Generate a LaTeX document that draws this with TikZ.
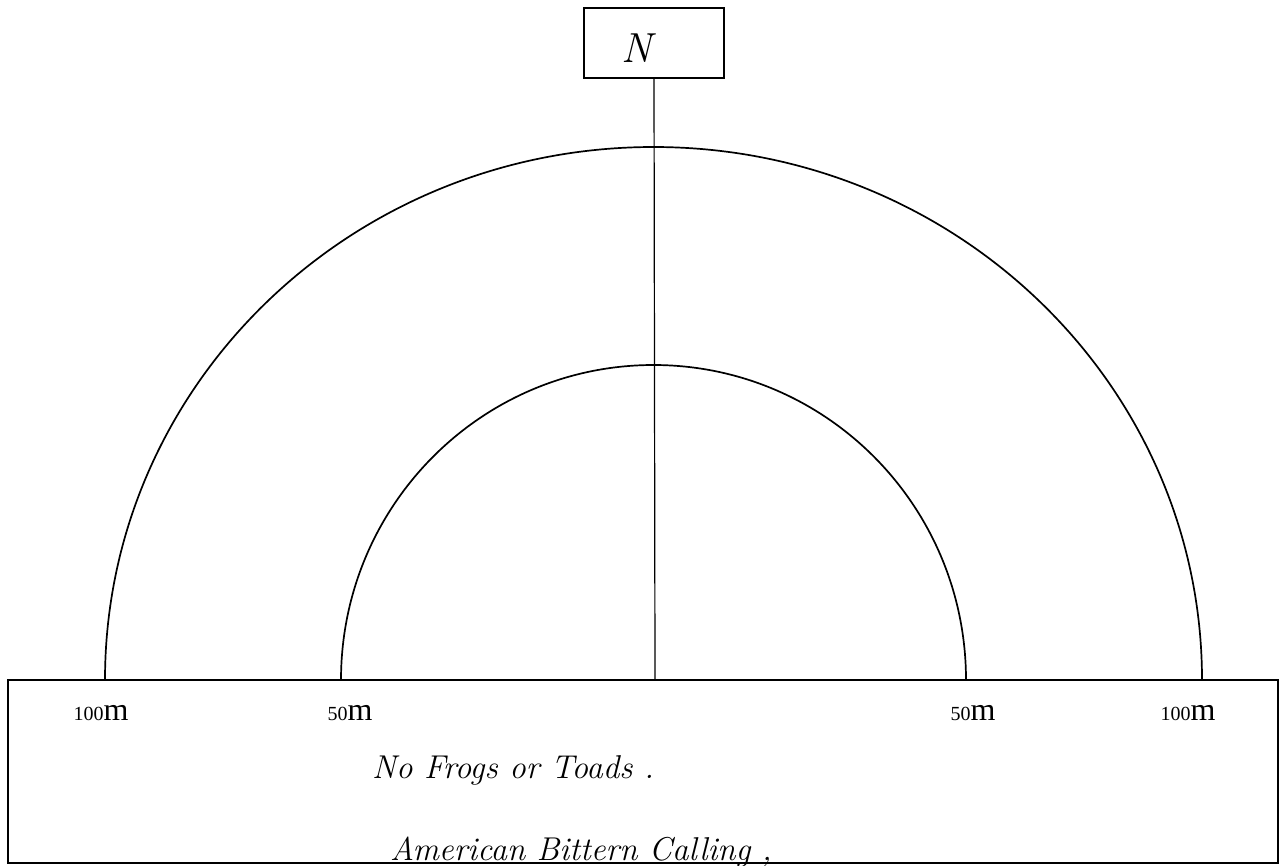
\documentclass[tikz,border=0pt]{standalone}
\usepackage{fontspec}
\newfontfamily\labelfont{Liberation Serif}
\usepackage{tikz}

\begin{document}
\begin{tikzpicture}[x=1pt, y=-1pt,
		ring/.style={line width=1.7pt},
		box/.style={draw, line width=1.6pt, inner sep=0pt},
		dist/.style={inner sep=0pt, anchor=base},
		hand/.style={inner sep=0pt, anchor=base west, font=\fontsize{33}{40}\selectfont\itshape}]
		\useasboundingbox (0,0) rectangle (1281,865);

		\node[box, minimum width=140pt, minimum height=70pt] (north) at (654,43) {};
		\node[inner sep=0pt, font=\fontsize{42}{46}\selectfont\itshape] (nlabel) at (637,48) {N};
		\node[box, minimum width=1270pt, minimum height=183pt] (legend) at (643,771.5) {};
		\coordinate (centre) at (655,680);

		\draw[line width=1.2pt] (north.south) -- (centre);
		\draw[ring] (105,680) arc[start angle=180, end angle=360, x radius=548.5, y radius=533];
		\draw[ring] (341,680) arc[start angle=180, end angle=360, x radius=312.5, y radius=315];

		\node[dist] (leftouter) at (101,720) {\labelfont\fontsize{20}{22}\selectfont 100\fontsize{32}{34}\selectfont m};
		\node[dist] (leftinner) at (350,720) {\labelfont\fontsize{20}{22}\selectfont 50\fontsize{32}{34}\selectfont m};
		\node[dist] (rightinner) at (973,720) {\labelfont\fontsize{20}{22}\selectfont 50\fontsize{32}{34}\selectfont m};
		\node[dist] (rightouter) at (1188,720) {\labelfont\fontsize{20}{22}\selectfont 100\fontsize{32}{34}\selectfont m};

		\node[hand] (frogs) at (372,778) {No Frogs or Toads .};
		\node[hand] (bittern) at (390,860) {American Bittern Calling ,};
	\end{tikzpicture}
\end{document}
